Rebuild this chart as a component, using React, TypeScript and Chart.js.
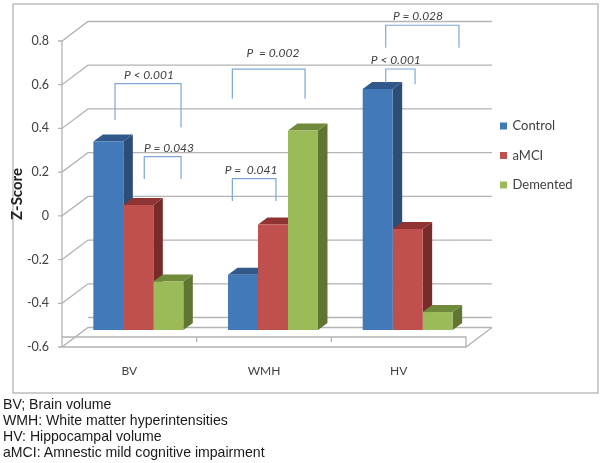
import React, { useEffect, useRef } from 'react';
import { Chart, registerables } from 'chart.js';

Chart.register(...registerables);

const categories = ['BV', 'WMH', 'HV'];
const seriesNames = ['Control', 'aMCI', 'Demented'];
const controlValues = [0.34, -0.27, 0.58];
const amciValues = [0.05, -0.04, -0.06];
const dementedValues = [-0.30, 0.39, -0.44];
const yTickLabels = ['-0.6', '-0.4', '-0.2', '0', '0.2', '0.4', '0.6', '0.8'];
const axisTitle = 'Z-Score';
const footnotes = [
  'BV; Brain volume',
  'WMH: White matter hyperintensities',
  'HV: Hippocampal volume',
  'aMCI: Amnestic mild cognitive impairment',
];

// x in category units, y in value units
const brackets = [
  { text: 'P < 0.001', x0: -0.173, x1: 0.317, top: 0.605, end0: 0.439, end1: 0.404, tx: 0.079, ty: 0.644 },
  { text: 'P = 0.043', x0: 0.044, x1: 0.317, top: 0.271, end0: 0.169, end1: 0.169, tx: 0.228, ty: 0.31 },
  { text: 'P =  0.041', x0: 0.698, x1: 1.022, top: 0.17, end0: 0.068, end1: 0.068, tx: 0.837, ty: 0.21 },
  { text: 'P  = 0.002', x0: 0.698, x1: 1.238, top: 0.671, end0: 0.536, end1: 0.536, tx: 1.0, ty: 0.746 },
  { text: 'P < 0.001', x0: 1.837, x1: 2.055, top: 0.672, end0: 0.609, end1: 0.602, tx: 1.912, ty: 0.713 },
  { text: 'P = 0.028', x0: 1.837, x1: 2.381, top: 0.872, end0: 0.769, end1: 0.769, tx: 2.077, ty: 0.913 },
];

const FLOOR_VALUE = -0.522;
const FRONT = ['#4279b8', '#c0504d', '#9bbb59'];
const SIDE = ['#2c4d75', '#772c2a', '#5f7530'];
const TOP = ['#31598c', '#8f3432', '#6f8a3a'];
const GRID = '#b3b3b3';
const BRACKET = '#7fa6d6';
const TEXT = '#404040';
const UI_FONT = 'Lato';

const DEPTH_X = 9.5;
const DEPTH_Y = 7;
const WALL_X = 26;
const WALL_Y = 19.5;
const FRONT_GAP = 9;

const scene = {
  id: 'scene',
  beforeDraw(chart: any) {
    const { ctx } = chart;
    ctx.save();
    ctx.strokeStyle = '#bdbdbd';
    ctx.lineWidth = 1.5;
    ctx.strokeRect(13, 4, 585, 389);
    ctx.restore();
  },
  afterLayout(chart: any) {
    const legend = chart.legend;
    legend.left = 484.5;
    legend.right = 596;
    legend.top = 103;
    legend.bottom = 215;
  },
  beforeDatasetsDraw(chart: any) {
    const { ctx, chartArea, scales } = chart;
    const y = scales.y;
    const left = chartArea.left - FRONT_GAP;
    const right = chartArea.right - FRONT_GAP;
    const bottom = y.getPixelForValue(-0.6);
    ctx.save();
    ctx.strokeStyle = GRID;
    ctx.lineWidth = 1.3;
    const line = (pts: number[][]) => {
      ctx.beginPath();
      pts.forEach((p, i) => (i ? ctx.lineTo(p[0], p[1]) : ctx.moveTo(p[0], p[1])));
      ctx.stroke();
    };
    y.ticks.forEach((t: any) => {
      const py = y.getPixelForValue(t.value);
      line([[left - 4, py], [left, py], [left + WALL_X, py - WALL_Y], [right + WALL_X, py - WALL_Y]]);
    });
    line([[left, y.getPixelForValue(0.8)], [left, bottom], [right, bottom], [right + WALL_X, bottom - WALL_Y]]);
    // floor slab
    const slab = 10;
    line([[left, bottom - slab], [right, bottom - slab], [right, bottom]]);
    line([[left + WALL_X, bottom - WALL_Y - slab], [right + WALL_X, bottom - WALL_Y - slab]]);
    const step = (right - left) / categories.length;
    for (let i = 1; i < categories.length; i++) {
      line([[left + i * step, bottom - slab], [left + i * step, bottom - slab + 5]]);
    }
    // side and top faces, left to right; the library then paints the front faces over them
    seriesNames.forEach((_n, i) => {
      chart.getDatasetMeta(i).data.forEach((bar: any) => {
        const l = bar.x - bar.width / 2;
        const r = bar.x + bar.width / 2;
        ctx.fillStyle = SIDE[i];
        ctx.beginPath();
        ctx.moveTo(r, bar.y);
        ctx.lineTo(r + DEPTH_X, bar.y - DEPTH_Y);
        ctx.lineTo(r + DEPTH_X, bar.base - DEPTH_Y);
        ctx.lineTo(r, bar.base);
        ctx.closePath();
        ctx.fill();
        ctx.fillStyle = TOP[i];
        ctx.beginPath();
        ctx.moveTo(l, bar.y);
        ctx.lineTo(l + DEPTH_X, bar.y - DEPTH_Y);
        ctx.lineTo(r + DEPTH_X, bar.y - DEPTH_Y);
        ctx.lineTo(r, bar.y);
        ctx.closePath();
        ctx.fill();
      });
    });
    ctx.restore();
  },
  afterDatasetsDraw(chart: any) {
    const { ctx, scales } = chart;
    const { x, y } = scales;
    ctx.save();
    brackets.forEach((b) => {
      const x0 = x.getPixelForValue(b.x0);
      const x1 = x.getPixelForValue(b.x1);
      ctx.strokeStyle = BRACKET;
      ctx.lineWidth = 1.2;
      ctx.beginPath();
      ctx.moveTo(x0, y.getPixelForValue(b.end0));
      ctx.lineTo(x0, y.getPixelForValue(b.top));
      ctx.lineTo(x1, y.getPixelForValue(b.top));
      ctx.lineTo(x1, y.getPixelForValue(b.end1));
      ctx.stroke();
      ctx.fillStyle = TEXT;
      ctx.font = `italic 12px ${UI_FONT}`;
      ctx.textAlign = 'center';
      ctx.textBaseline = 'middle';
      ctx.fillText(b.text, x.getPixelForValue(b.tx), y.getPixelForValue(b.ty));
    });
    ctx.restore();
  },
};

export default function App() {
  const ref = useRef<HTMLCanvasElement>(null);
  useEffect(() => {
    const values = [controlValues, amciValues, dementedValues];
    const chart = new Chart(ref.current!, {
      type: 'bar',
      data: {
        labels: categories,
        datasets: seriesNames.map((name, i) => ({
          label: name,
          data: values[i],
          backgroundColor: FRONT[i],
          base: FLOOR_VALUE,
          categoryPercentage: 0.668,
          barPercentage: 1,
        })),
      },
      options: {
        animation: false,
        responsive: false,
        layout: { padding: { left: 8, top: 41, right: 127, bottom: 76 } },
        scales: {
          x: {
            grid: { display: false, drawTicks: false },
            border: { display: false },
            afterFit: (s: any) => { s.height = 40; },
            ticks: {
              padding: 17,
              labelOffset: -FRONT_GAP,
              color: TEXT,
              font: { family: UI_FONT, size: 12 },
              maxRotation: 0,
            },
          },
          y: {
            min: -0.6,
            max: 0.8,
            grid: { display: false, drawTicks: false },
            border: { display: false },
            afterFit: (s: any) => { s.width = 63; },
            title: {
              display: true,
              text: axisTitle,
              color: '#202020',
              font: { family: UI_FONT, size: 15, weight: 'bold' },
              padding: { top: 0, bottom: 0 },
            },
            ticks: {
              stepSize: 0.2,
              padding: 22,
              color: TEXT,
              font: { family: UI_FONT, size: 12.5 },
              callback: (_v: any, i: number) => yTickLabels[i],
            },
          },
        },
        plugins: {
          title: { display: false },
          tooltip: { enabled: false },
          legend: {
            position: 'chartArea' as any,
            align: 'start',
            labels: {
              boxWidth: 5,
              boxHeight: 5,
              padding: 16.5,
              color: TEXT,
              font: { family: UI_FONT, size: 13 },
              generateLabels: () =>
                seriesNames.map((text, i) => ({
                  text,
                  datasetIndex: i,
                  fillStyle: FRONT[i],
                  strokeStyle: FRONT[i],
                  lineWidth: 2,
                  fontColor: TEXT,
                })),
            },
          },
        },
      },
      plugins: [scene],
    } as any);
    return () => chart.destroy();
  }, []);

  return (
    <div style={{ position: 'absolute', left: 0, top: 0, width: 602, height: 463, overflow: 'hidden', background: '#fff' }}>
      <canvas ref={ref} width={602} height={463} style={{ display: 'block' }} />
      <div style={{ position: 'absolute', left: 3, top: 396, font: '14.1px/16px "Liberation Sans"', color: '#1a1a1a' }}>
        {footnotes.map((f) => (
          <div key={f} style={{ whiteSpace: 'nowrap' }}>{f}</div>
        ))}
      </div>
    </div>
  );
}
